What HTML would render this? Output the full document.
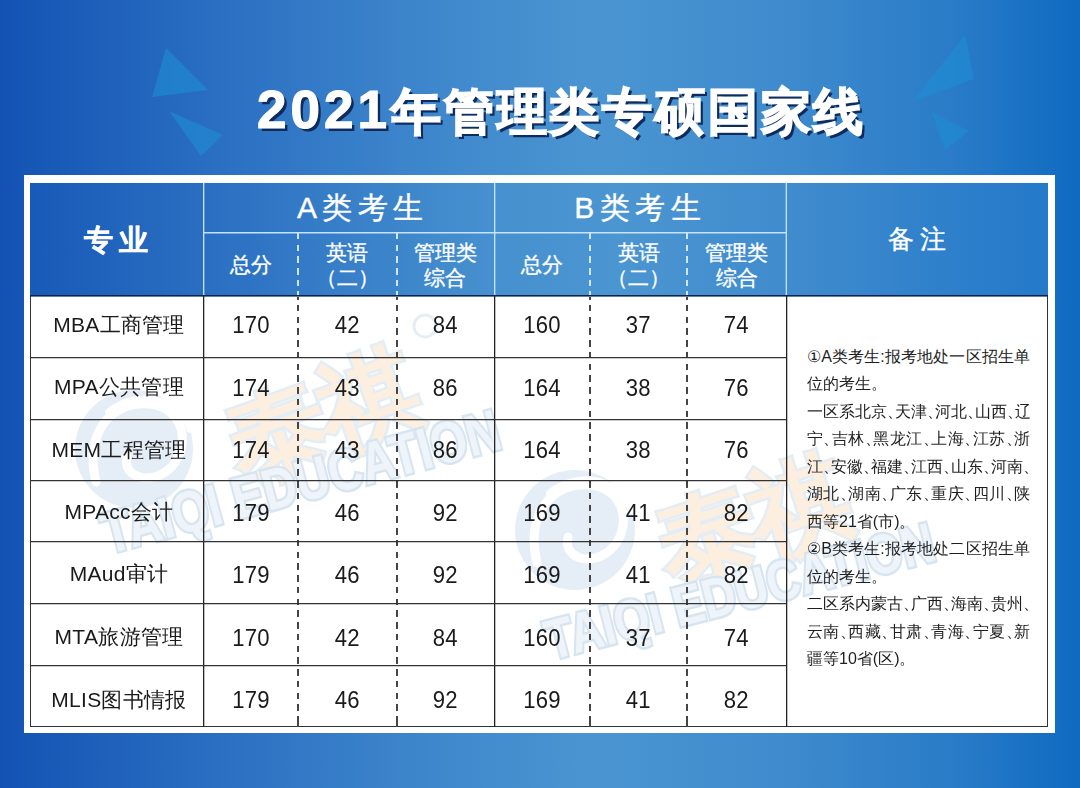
<!DOCTYPE html>
<html><head><meta charset="utf-8">
<style>
*{margin:0;padding:0;box-sizing:border-box}
html,body{width:1080px;height:788px;overflow:hidden}
body{position:relative;font-family:"Liberation Sans",sans-serif;
background:linear-gradient(90deg,#1352b3 0%,#2a6fc2 20%,#3f87cc 40%,#4a95d1 55%,#3f8bcd 72%,#2a7cc8 88%,#0f6ac0 100%);}
.abs{position:absolute}
#title .cj{font-size:50px;letter-spacing:2.8px;position:relative;top:1px;-webkit-text-stroke:1.6px #fff}
#title .dg{letter-spacing:4px;-webkit-text-stroke:1.2px #fff}
#title{position:absolute;left:257px;top:70px;color:#fff;font-size:53px;font-weight:900;line-height:80px;
text-shadow:3px 3px 0 #0e2b5e;white-space:nowrap}
#frame{position:absolute;left:24px;top:175px;width:1031px;height:558px;background:#fff}
#head{position:absolute;left:30px;top:183px;width:1018px;height:113px;
background:linear-gradient(90deg,#185ab8 0%,#2d72c3 20%,#4690cf 45%,#4b95d1 58%,#408bcd 75%,#2e80cb 90%,#2479c9 100%)}
#bodyw{position:absolute;left:30px;top:296px;width:1018px;height:431px;background:#fff;border:1.5px solid #333;border-top:none}
.cell{position:absolute;display:flex;align-items:center;justify-content:center;text-align:center}
.h{color:#fff;-webkit-text-stroke:.35px #fff}
.d{color:#1a1a1a;font-size:21px;padding-bottom:4px;letter-spacing:.3px}
.c1{padding-left:4px}
.n{padding-bottom:2px}
.n span{display:inline-block;font-size:23.5px;transform:scaleX(.94)}
.vl{position:absolute;width:1px;background:#222;box-shadow:1px 0 0 rgba(0,0,0,.25)}
.hl{position:absolute;height:1px;background:#333;box-shadow:0 1px 0 rgba(0,0,0,.2)}
.dash{position:absolute;width:2px;background:repeating-linear-gradient(180deg,#444 0 6.5px,transparent 6.5px 11.75px);background-position:0 -4.05px}
.hdash{position:absolute;width:1.5px;background:repeating-linear-gradient(180deg,#cfe6ff 0 6.5px,transparent 6.5px 11.7px)}
.hwl{position:absolute;background:#c4e3fd}
#notes i{font-style:normal;letter-spacing:-8px}
#notes{position:absolute;left:807px;top:343px;font-size:16px;line-height:27.47px;color:#1e1e1e}
.nl{position:absolute;left:0;width:223px;white-space:nowrap}
.nl.j{text-align:justify;text-align-last:justify}
</style></head>
<body>
<svg class="abs" style="left:0;top:0" width="1080" height="180">
<g fill="#1d8fd6" fill-opacity="0.55">
<polygon points="166,48 152,97 208,90"/>
<polygon points="169,111 223,135 201,156"/>
<polygon points="965,35 913,101 974,79"/>
<polygon points="932,112 969,131 945,150"/>
</g>
</svg>
<div id="title"><span class="dg">2021</span><span class="cj">年管理类专硕国家线</span></div>
<div id="frame"></div>
<div id="head"></div>
<div id="bodyw"></div>
<svg class="abs" style="left:0;top:0" width="1080" height="788">
<defs>
<clipPath id="c1"><rect x="31" y="297" width="1016" height="430"/></clipPath>
</defs>
<g clip-path="url(#c1)">
<g opacity="0.9">
<circle cx="134" cy="449" r="59" fill="#e3ecf5"/>
<path d="M96 482 C 84 432, 112 400, 150 404 C 186 408, 192 450, 168 470 C 148 486, 122 476, 127 456" fill="none" stroke="#fff" stroke-width="9" stroke-linecap="round"/>
<path d="M108 412 C 134 390, 178 394, 190 430" fill="none" stroke="#fff" stroke-width="6" stroke-linecap="round"/>
<g transform="translate(322 420) rotate(-20)">
<text x="0" y="32" text-anchor="middle" font-family="Liberation Sans, sans-serif" font-size="100" font-weight="900" fill="#fdeedd" stroke="#e0ebf5" stroke-width="5" paint-order="stroke" letter-spacing="-4">泰祺</text>
</g>
<circle cx="425" cy="326" r="11" fill="none" stroke="#e3ecf4" stroke-width="3"/>
<g transform="translate(108 554) rotate(-15)">
<text x="0" y="0" font-family="Liberation Sans, sans-serif" font-size="58" font-weight="700" fill="#edf3f9" stroke="#d3e2f0" stroke-width="5" paint-order="stroke" textLength="410" lengthAdjust="spacingAndGlyphs">TAIQI EDUCATION</text>
</g>
<circle cx="575" cy="530" r="60" fill="#e3ecf5"/>
<path d="M537 563 C 525 513, 553 481, 591 485 C 627 489, 633 531, 609 551 C 589 567, 563 557, 568 537" fill="none" stroke="#fff" stroke-width="9" stroke-linecap="round"/>
<path d="M549 493 C 575 471, 619 475, 631 511" fill="none" stroke="#fff" stroke-width="6" stroke-linecap="round"/>
<g transform="translate(752 525) rotate(-18)">
<text x="0" y="32" text-anchor="middle" font-family="Liberation Sans, sans-serif" font-size="100" font-weight="900" fill="#fdeedd" stroke="#e0ebf5" stroke-width="5" paint-order="stroke" letter-spacing="-4">泰祺</text>
</g>
<g transform="translate(551 660) rotate(-14.5)">
<text x="0" y="0" font-family="Liberation Sans, sans-serif" font-size="56" font-weight="700" fill="#edf3f9" stroke="#d3e2f0" stroke-width="5" paint-order="stroke" textLength="400" lengthAdjust="spacingAndGlyphs">TAIQI EDUCATION</text>
</g>
</g>
</g>
</svg>


<!-- header lines -->
<div class="hwl" style="left:203px;top:183px;width:1px;height:113px;box-shadow:1px 0 0 rgba(196,227,253,.35)"></div>
<div class="hwl" style="left:494px;top:183px;width:1px;height:113px;box-shadow:1px 0 0 rgba(196,227,253,.35)"></div>
<div class="hwl" style="left:786px;top:183px;width:1px;height:113px;box-shadow:-1px 0 0 rgba(196,227,253,.35)"></div>
<div class="hwl" style="left:203px;top:232px;width:583px;height:1px;box-shadow:0 1px 0 rgba(196,227,253,.5)"></div>
<div class="hdash" style="left:297px;top:233px;height:63px"></div>
<div class="hdash" style="left:396px;top:233px;height:63px"></div>
<div class="hdash" style="left:589px;top:233px;height:63px"></div>
<div class="hdash" style="left:686px;top:233px;height:63px"></div>
<div class="abs" style="left:30px;top:295px;width:1018px;height:1px;background:#0d2450;box-shadow:0 1px 0 rgba(13,36,80,.6)"></div>

<!-- header text -->
<div class="cell h" style="left:30px;top:183px;width:173px;height:113px;font-size:29px;font-weight:700;letter-spacing:6px;padding-left:4px;padding-top:3px">专业</div>
<div class="cell h" style="left:203px;top:183px;width:291px;height:50px;font-size:30px;letter-spacing:5.5px;padding-left:29px">A类考生</div>
<div class="cell h" style="left:494px;top:183px;width:292px;height:50px;font-size:30px;letter-spacing:5.5px;padding-left:0.5px">B类考生</div>
<div class="cell h" style="left:786px;top:183px;width:262px;height:113px;font-size:26px;letter-spacing:6px;padding-left:6px">备注</div>
<div class="cell h" style="left:203px;top:233px;width:95px;height:63px;font-size:21px">总分</div>
<div class="cell h" style="left:298px;top:233px;width:98px;height:63px;font-size:21px;line-height:25px">英语<br>（二）</div>
<div class="cell h" style="left:396px;top:233px;width:98px;height:63px;font-size:21px;line-height:25px">管理类<br>综合</div>
<div class="cell h" style="left:494px;top:233px;width:96px;height:63px;font-size:21px">总分</div>
<div class="cell h" style="left:590px;top:233px;width:97px;height:63px;font-size:21px;line-height:25px">英语<br>（二）</div>
<div class="cell h" style="left:687px;top:233px;width:99px;height:63px;font-size:21px;line-height:25px">管理类<br>综合</div>

<!-- body lines -->
<div class="vl" style="left:203px;top:296px;height:431px"></div>
<div class="vl" style="left:494px;top:296px;height:431px"></div>
<div class="vl" style="left:785.5px;top:296px;height:431px"></div>
<div class="dash" style="left:297px;top:297px;height:430px"></div>
<div class="dash" style="left:396px;top:297px;height:430px"></div>
<div class="dash" style="left:589px;top:297px;height:430px"></div>
<div class="dash" style="left:686px;top:297px;height:430px"></div>
<div class="hl" style="left:30px;top:357px;width:756px"></div>
<div class="hl" style="left:30px;top:419px;width:756px"></div>
<div class="hl" style="left:30px;top:480px;width:756px"></div>
<div class="hl" style="left:30px;top:541px;width:756px"></div>
<div class="hl" style="left:30px;top:603px;width:756px"></div>
<div class="hl" style="left:30px;top:665px;width:756px"></div>

<div id="rows">
<div class="cell d c1" style="left:30.5px;top:296.2px;width:173.0px;height:61.3px">MBA工商管理</div>
<div class="cell d n" style="left:203.5px;top:296.2px;width:94.5px;height:61.3px"><span>170</span></div>
<div class="cell d n" style="left:298.0px;top:296.2px;width:98.5px;height:61.3px"><span>42</span></div>
<div class="cell d n" style="left:396.5px;top:296.2px;width:98.1px;height:61.3px"><span>84</span></div>
<div class="cell d n" style="left:494.6px;top:296.2px;width:95.0px;height:61.3px"><span>160</span></div>
<div class="cell d n" style="left:589.6px;top:296.2px;width:97.0px;height:61.3px"><span>37</span></div>
<div class="cell d n" style="left:686.6px;top:296.2px;width:99.4px;height:61.3px"><span>74</span></div>
<div class="cell d c1" style="left:30.5px;top:358.4px;width:173.0px;height:61.8px">MPA公共管理</div>
<div class="cell d n" style="left:203.5px;top:358.4px;width:94.5px;height:61.8px"><span>174</span></div>
<div class="cell d n" style="left:298.0px;top:358.4px;width:98.5px;height:61.8px"><span>43</span></div>
<div class="cell d n" style="left:396.5px;top:358.4px;width:98.1px;height:61.8px"><span>86</span></div>
<div class="cell d n" style="left:494.6px;top:358.4px;width:95.0px;height:61.8px"><span>164</span></div>
<div class="cell d n" style="left:589.6px;top:358.4px;width:97.0px;height:61.8px"><span>38</span></div>
<div class="cell d n" style="left:686.6px;top:358.4px;width:99.4px;height:61.8px"><span>76</span></div>
<div class="cell d c1" style="left:30.5px;top:421.2px;width:173.0px;height:61.4px">MEM工程管理</div>
<div class="cell d n" style="left:203.5px;top:421.2px;width:94.5px;height:61.4px"><span>174</span></div>
<div class="cell d n" style="left:298.0px;top:421.2px;width:98.5px;height:61.4px"><span>43</span></div>
<div class="cell d n" style="left:396.5px;top:421.2px;width:98.1px;height:61.4px"><span>86</span></div>
<div class="cell d n" style="left:494.6px;top:421.2px;width:95.0px;height:61.4px"><span>164</span></div>
<div class="cell d n" style="left:589.6px;top:421.2px;width:97.0px;height:61.4px"><span>38</span></div>
<div class="cell d n" style="left:686.6px;top:421.2px;width:99.4px;height:61.4px"><span>76</span></div>
<div class="cell d c1" style="left:30.5px;top:483.6px;width:173.0px;height:61.2px">MPAcc会计</div>
<div class="cell d n" style="left:203.5px;top:483.6px;width:94.5px;height:61.2px"><span>179</span></div>
<div class="cell d n" style="left:298.0px;top:483.6px;width:98.5px;height:61.2px"><span>46</span></div>
<div class="cell d n" style="left:396.5px;top:483.6px;width:98.1px;height:61.2px"><span>92</span></div>
<div class="cell d n" style="left:494.6px;top:483.6px;width:95.0px;height:61.2px"><span>169</span></div>
<div class="cell d n" style="left:589.6px;top:483.6px;width:97.0px;height:61.2px"><span>41</span></div>
<div class="cell d n" style="left:686.6px;top:483.6px;width:99.4px;height:61.2px"><span>82</span></div>
<div class="cell d c1" style="left:30.5px;top:545.7px;width:173.0px;height:61.3px">MAud审计</div>
<div class="cell d n" style="left:203.5px;top:545.7px;width:94.5px;height:61.3px"><span>179</span></div>
<div class="cell d n" style="left:298.0px;top:545.7px;width:98.5px;height:61.3px"><span>46</span></div>
<div class="cell d n" style="left:396.5px;top:545.7px;width:98.1px;height:61.3px"><span>92</span></div>
<div class="cell d n" style="left:494.6px;top:545.7px;width:95.0px;height:61.3px"><span>169</span></div>
<div class="cell d n" style="left:589.6px;top:545.7px;width:97.0px;height:61.3px"><span>41</span></div>
<div class="cell d n" style="left:686.6px;top:545.7px;width:99.4px;height:61.3px"><span>82</span></div>
<div class="cell d c1" style="left:30.5px;top:608.0px;width:173.0px;height:62.0px">MTA旅游管理</div>
<div class="cell d n" style="left:203.5px;top:608.0px;width:94.5px;height:62.0px"><span>170</span></div>
<div class="cell d n" style="left:298.0px;top:608.0px;width:98.5px;height:62.0px"><span>42</span></div>
<div class="cell d n" style="left:396.5px;top:608.0px;width:98.1px;height:62.0px"><span>84</span></div>
<div class="cell d n" style="left:494.6px;top:608.0px;width:95.0px;height:62.0px"><span>160</span></div>
<div class="cell d n" style="left:589.6px;top:608.0px;width:97.0px;height:62.0px"><span>37</span></div>
<div class="cell d n" style="left:686.6px;top:608.0px;width:99.4px;height:62.0px"><span>74</span></div>
<div class="cell d c1" style="left:30.5px;top:670.9px;width:173.0px;height:61.4px">MLIS图书情报</div>
<div class="cell d n" style="left:203.5px;top:670.9px;width:94.5px;height:61.4px"><span>179</span></div>
<div class="cell d n" style="left:298.0px;top:670.9px;width:98.5px;height:61.4px"><span>46</span></div>
<div class="cell d n" style="left:396.5px;top:670.9px;width:98.1px;height:61.4px"><span>92</span></div>
<div class="cell d n" style="left:494.6px;top:670.9px;width:95.0px;height:61.4px"><span>169</span></div>
<div class="cell d n" style="left:589.6px;top:670.9px;width:97.0px;height:61.4px"><span>41</span></div>
<div class="cell d n" style="left:686.6px;top:670.9px;width:99.4px;height:61.4px"><span>82</span></div>
</div>

<div id="notes">
<div class="nl j" style="top:0.00px">①A类考生:报考地处一区招生单</div>
<div class="nl" style="top:27.47px">位的考生。</div>
<div class="nl j" style="top:54.94px">一区系北京<i>、</i>天津<i>、</i>河北<i>、</i>山西<i>、</i>辽</div>
<div class="nl j" style="top:82.41px">宁<i>、</i>吉林<i>、</i>黑龙江<i>、</i>上海<i>、</i>江苏<i>、</i>浙</div>
<div class="nl j" style="top:109.88px">江<i>、</i>安徽<i>、</i>福建<i>、</i>江西<i>、</i>山东<i>、</i>河南<i>、</i></div>
<div class="nl j" style="top:137.35px">湖北<i>、</i>湖南<i>、</i>广东<i>、</i>重庆<i>、</i>四川<i>、</i>陕</div>
<div class="nl" style="top:164.82px">西等21省(市)。</div>
<div class="nl j" style="top:192.29px">②B类考生:报考地处二区招生单</div>
<div class="nl" style="top:219.76px">位的考生。</div>
<div class="nl j" style="top:247.23px">二区系内蒙古<i>、</i>广西<i>、</i>海南<i>、</i>贵州<i>、</i></div>
<div class="nl j" style="top:274.70px">云南<i>、</i>西藏<i>、</i>甘肃<i>、</i>青海<i>、</i>宁夏<i>、</i>新</div>
<div class="nl" style="top:302.17px">疆等10省(区)。</div>
</div>
</body></html>
